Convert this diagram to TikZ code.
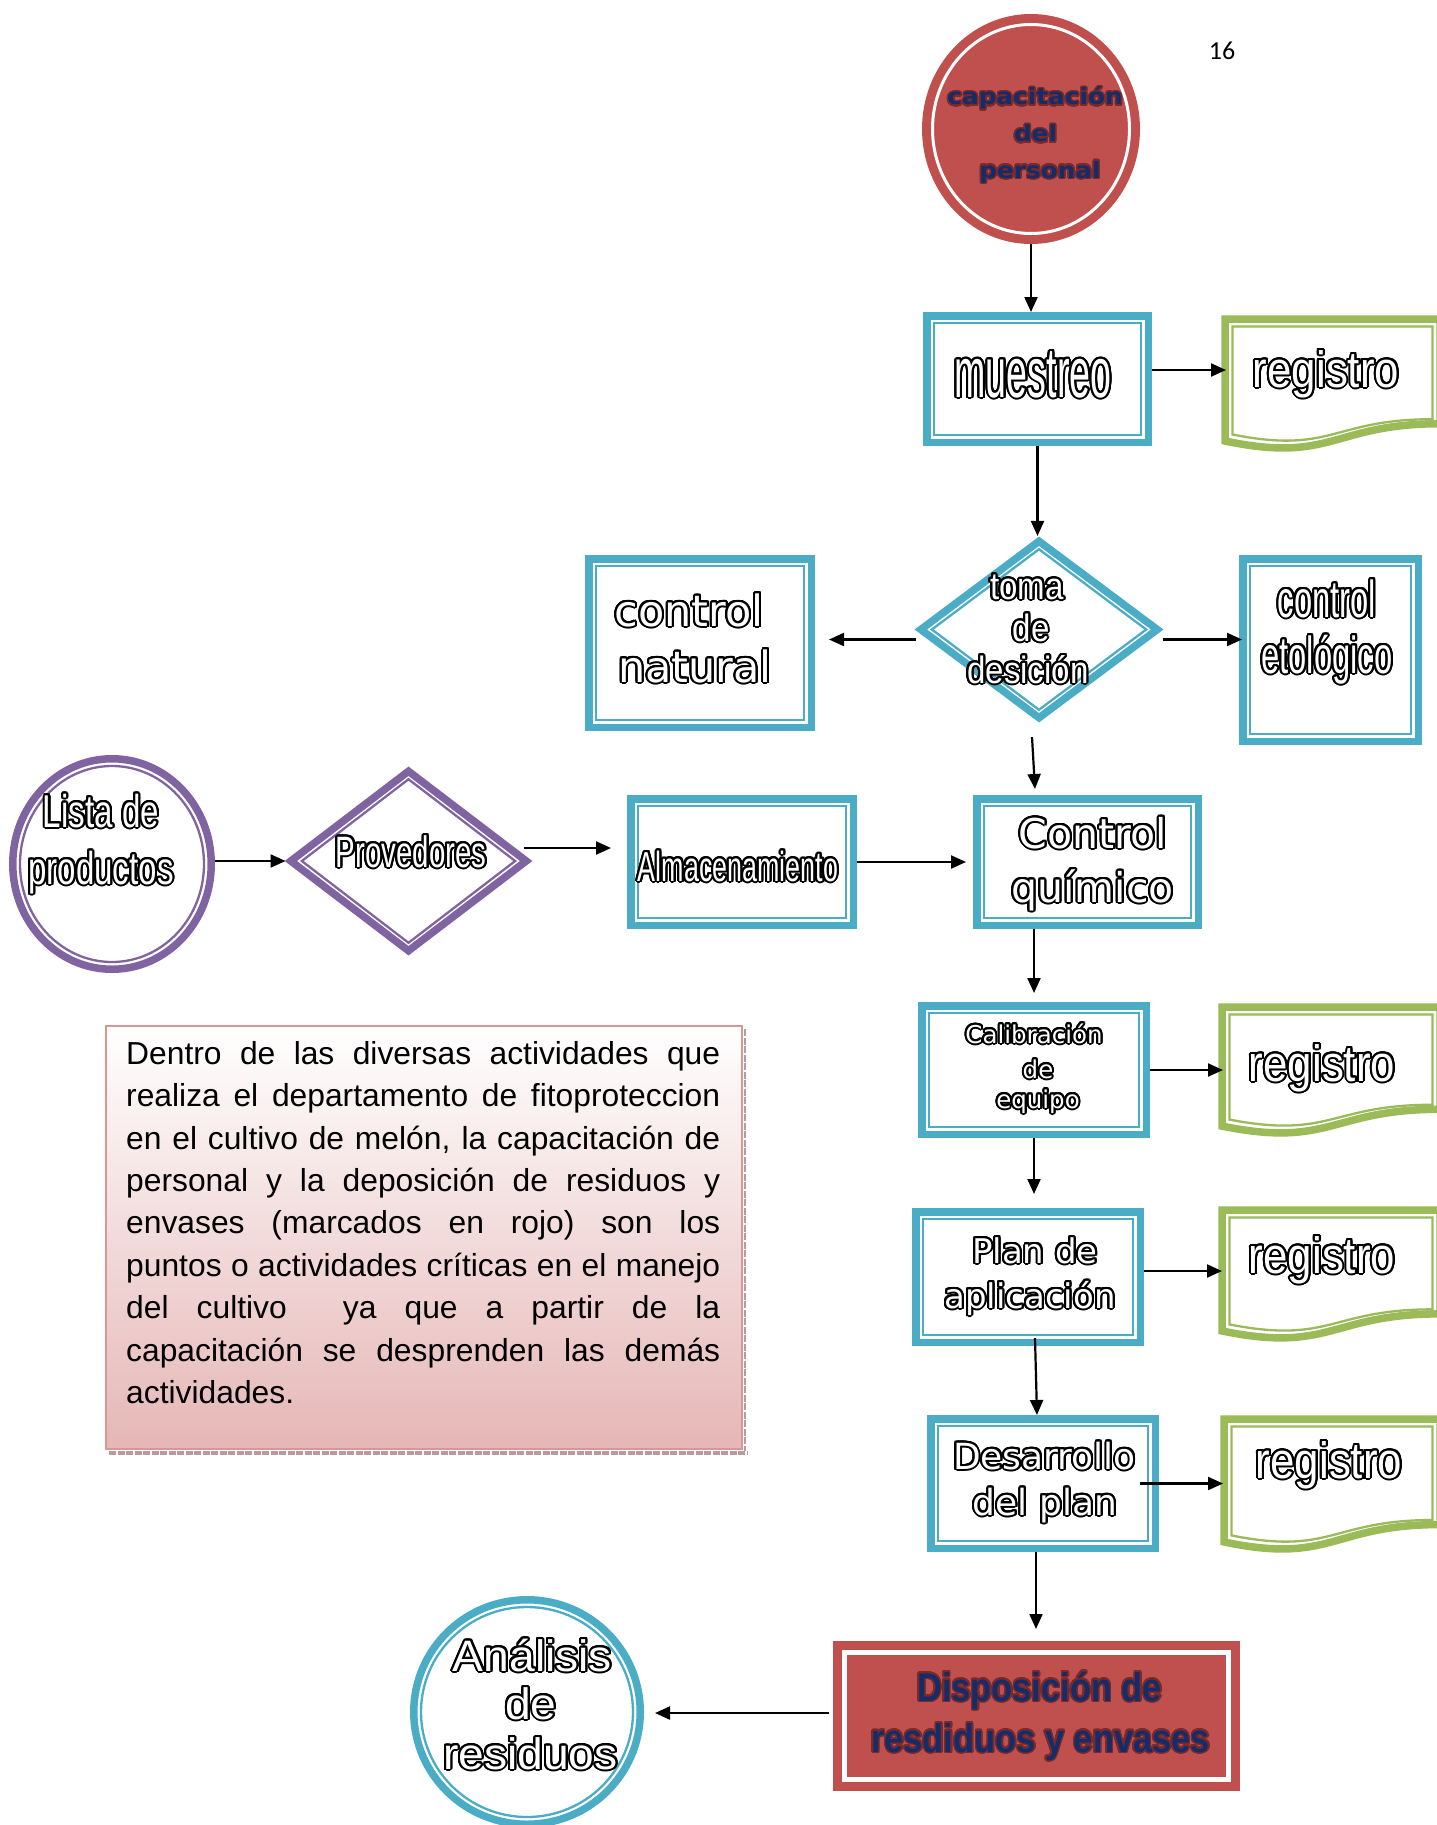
\documentclass[tikz,border=0pt]{standalone}
\usepackage{fontspec}
\setmainfont{Liberation Sans}
\newfontfamily\dvfont{DejaVu Sans}
\newfontfamily\pagefont{Carlito}
\usepackage{graphicx}
\usepackage[copies]{contour}
\contournumber{24}
\contourlength{2pt}
\usetikzlibrary{arrows.meta,shapes.geometric,calc}

\definecolor{cblue}{HTML}{4BACC6}
\definecolor{cgreen}{HTML}{9BBB59}
\definecolor{cpurple}{HTML}{8064A2}
\definecolor{cred}{HTML}{C0504D}
\definecolor{cnavy}{HTML}{142C6A}
\definecolor{cshade}{HTML}{7A2B29}
\definecolor{cpinkb}{HTML}{D99694}
\definecolor{cpinkf}{HTML}{E5B7B6}
\definecolor{cstrip}{HTML}{B99A9D}

\newcommand{\otx}[2]{\contour{black}{\scalebox{#1}[1]{#2}}}
\newcommand{\ntx}[2]{{\contourlength{1.5pt}\contour{cshade}{\scalebox{#1}[1]{#2}}}}
\newcommand{\regshape}[5]{%
  \draw[draw=cgreen, line width=7.5pt, fill=white, line join=miter]
    (#2,#3) -- (#4,#3) -- (#4,{#3+0.802*#5})
    .. controls ({(#2+#4)/2},{#3+0.802*#5}) and ({(#2+#4)/2},{#3+1.1075*#5}) ..
    (#2,{#3+0.934*#5}) -- cycle;
  \draw[draw=cgreen, line width=2.3pt]
    ({#2+7.5},{#3+7.5}) -- ({#4-7.5},{#3+7.5}) -- ({#4-7.5},{#3+7.5+0.802*(#5-15)})
    .. controls ({(#2+#4)/2},{#3+7.5+0.802*(#5-15)}) and ({(#2+#4)/2},{#3+7.5+1.1075*(#5-15)}) ..
    ({#2+7.5},{#3+7.5+0.934*(#5-15)}) -- cycle;
  \node[inner sep=0pt, minimum width={#4-#2+8}, minimum height={#5+8}, anchor=north west] (#1) at ({#2-4},{#3-4}) {};
}

\tikzset{
  bbox/.style={rectangle, draw=cblue, line width=7.5pt, fill=white, inner sep=0pt},
  bboxin/.style={rectangle, draw=cblue, line width=2.3pt, inner sep=0pt},
  pcirc/.style={ellipse, draw=cpurple, line width=7.5pt, fill=white, inner sep=0pt},
  pcircin/.style={ellipse, draw=cpurple, line width=2.3pt, inner sep=0pt},
  bcirc/.style={ellipse, draw=cblue, line width=7.5pt, fill=white, inner sep=0pt},
  bcircin/.style={ellipse, draw=cblue, line width=2.3pt, inner sep=0pt},
  bdia/.style={diamond, draw=cblue, line width=7.5pt, fill=white, inner sep=0pt},
  bdiain/.style={diamond, draw=cblue, line width=2.3pt, inner sep=0pt},
  pdia/.style={diamond, draw=cpurple, line width=7.5pt, fill=white, inner sep=0pt},
  pdiain/.style={diamond, draw=cpurple, line width=2.3pt, inner sep=0pt},
  otext/.style={text=white, inner sep=0pt, anchor=base},
  ntext/.style={text=cnavy, inner sep=0pt, anchor=base},
  arr/.style={-{Triangle[length=15pt,width=13pt]}, line width=2.2pt, draw=black},
}

\begin{document}
\begin{tikzpicture}[x=1pt,y=-1pt]
\useasboundingbox (0,0) rectangle (1436,1825);
\fill[white] (0,0) rectangle (1436,1825);

% page number
\node[font=\pagefont\fontsize{26}{30}\selectfont, anchor=base, inner sep=0pt] (pagenum) at (1222,60) {16};

% capacitacion
\node[ellipse, fill=cred, draw=cred, line width=2pt, minimum width=216, minimum height=228, inner sep=0pt] (cap) at (1031,129) {};
\node[ellipse, draw=white, line width=3pt, minimum width=197, minimum height=209, inner sep=0pt] (cap-in) at (1031,129) {};
\begin{scope}[font=\dvfont\bfseries\fontsize{22.5}{26}\selectfont]
\node[ntext] (cap-l1) at (1035,105) {\ntx{1.1}{capacitación}};
\node[ntext] (cap-l2) at (1035.5,142) {\ntx{1.1}{del}};
\node[ntext] (cap-l3) at (1040,178) {\ntx{1.1}{personal}};
\end{scope}

% muestreo
\node[bbox, minimum width=221.5, minimum height=126.5] (muestreo) at (1037.5,379) {};
\node[bboxin, minimum width=207, minimum height=112] (muestreo-in) at (1037.5,379) {};
\node[otext, font=\fontsize{71}{80}\selectfont] (muestreo-t) at (1033,397) {\otx{0.53}{muestreo}};

% registro shapes
\regshape{reg1}{1225}{319}{1440}{130.6}
\regshape{reg2}{1222}{1007}{1440}{127.5}
\regshape{reg3}{1222}{1210}{1440}{129.5}
\regshape{reg4}{1224}{1419}{1440}{131.6}
\begin{scope}[font=\fontsize{51}{56}\selectfont]
\node[otext] (reg1-t) at (1326,387) {\otx{0.86}{registro}};
\node[otext] (reg2-t) at (1322,1081) {\otx{0.86}{registro}};
\node[otext] (reg3-t) at (1322,1273) {\otx{0.86}{registro}};
\node[otext] (reg4-t) at (1329,1478) {\otx{0.86}{registro}};
\end{scope}

% toma de desicion
\node[bdia, minimum width=239.5, minimum height=179.6] (toma) at (1039,629.5) {};
\node[bdiain, minimum width=215.3, minimum height=161.5] (toma-in) at (1039,629.5) {};
\begin{scope}[font=\fontsize{38}{42}\selectfont]
\node[otext] (toma-l1) at (1027,599) {\otx{0.87}{toma}};
\node[otext] (toma-l2) at (1031,641) {\otx{0.87}{de}};
\node[otext] (toma-l3) at (1028,683) {\otx{0.87}{desición}};
\end{scope}

% control natural
\node[bbox, minimum width=222.5, minimum height=168.5] (natural) at (700,643) {};
\node[bboxin, minimum width=208, minimum height=154] (natural-in) at (700,643) {};
\begin{scope}[font=\dvfont\fontsize{43}{48}\selectfont]
\node[otext] (natural-l1) at (689,626) {\otx{1}{control}};
\node[otext] (natural-l2) at (695,682) {\otx{1}{natural}};
\end{scope}

% control etologico
\node[bbox, minimum width=175.5, minimum height=182.5] (etol) at (1330.5,650) {};
\node[bboxin, minimum width=161, minimum height=168] (etol-in) at (1330.5,650) {};
\begin{scope}[font=\fontsize{52}{56}\selectfont]
\node[otext] (etol-l1) at (1327,617) {\otx{0.63}{control}};
\node[otext] (etol-l2) at (1327,673) {\otx{0.63}{etológico}};
\end{scope}

% Lista de productos
\node[pcirc, minimum width=198.5, minimum height=210.5] (lista) at (112,864) {};
\node[pcircin, minimum width=184, minimum height=196] (lista-in) at (112,864) {};
\begin{scope}[font=\fontsize{46}{50}\selectfont]
\node[otext] (lista-l1) at (101,827) {\otx{0.72}{Lista de}};
\node[otext] (lista-l2) at (101,884) {\otx{0.72}{productos}};
\end{scope}

% Provedores
\node[pdia, minimum width=238.5, minimum height=182.6] (prov) at (408.5,861) {};
\node[pdiain, minimum width=214.3, minimum height=164.5] (prov-in) at (408.5,861) {};
\node[otext, font=\fontsize{44}{48}\selectfont] (prov-t) at (411,867) {\otx{0.67}{Provedores}};

% Almacenamiento
\node[bbox, minimum width=222.5, minimum height=126.5] (almac) at (742,862) {};
\node[bboxin, minimum width=208, minimum height=112] (almac-in) at (742,862) {};
\node[otext, font=\fontsize{42}{46}\selectfont] (almac-t) at (738,881) {\otx{0.64}{Almacenamiento}};

% Control quimico
\node[bbox, minimum width=221.5, minimum height=126.5] (quimico) at (1087.5,862) {};
\node[bboxin, minimum width=207, minimum height=112] (quimico-in) at (1087.5,862) {};
\begin{scope}[font=\dvfont\fontsize{41}{46}\selectfont]
\node[otext] (quimico-l1) at (1093,848) {\otx{1}{Control}};
\node[otext] (quimico-l2) at (1092.5,902) {\otx{1}{químico}};
\end{scope}

% Calibracion de equipo
\node[bbox, minimum width=224.5, minimum height=128.5] (calib) at (1034,1070) {};
\node[bboxin, minimum width=210, minimum height=114] (calib-in) at (1034,1070) {};
\begin{scope}[font=\dvfont\fontsize{24.5}{28}\selectfont]
\node[otext] (calib-l1) at (1034,1043) {\otx{1}{Calibración}};
\node[otext] (calib-l2) at (1038,1078) {\otx{1}{de}};
\node[otext] (calib-l3) at (1038,1108) {\otx{1}{equipo}};
\end{scope}

% Plan de aplicacion
\node[bbox, minimum width=224.5, minimum height=130.5] (plan) at (1028,1277) {};
\node[bboxin, minimum width=210, minimum height=116] (plan-in) at (1028,1277) {};
\begin{scope}[font=\dvfont\fontsize{34}{38}\selectfont]
\node[otext] (plan-l1) at (1035,1263) {\otx{1}{Plan de}};
\node[otext] (plan-l2) at (1030,1308) {\otx{1}{aplicación}};
\end{scope}

% Desarrollo del plan
\node[bbox, minimum width=224.5, minimum height=129.5] (desarrollo) at (1043,1483.5) {};
\node[bboxin, minimum width=210, minimum height=115] (desarrollo-in) at (1043,1483.5) {};
\begin{scope}[font=\dvfont\fontsize{36}{40}\selectfont]
\node[otext] (desarrollo-l1) at (1044.5,1469) {\otx{1}{Desarrollo}};
\node[otext] (desarrollo-l2) at (1045,1515) {\otx{1}{del plan}};
\end{scope}

% Disposicion de residuos
\node[rectangle, fill=cred, draw=cred, line width=2pt, minimum width=405, minimum height=148, inner sep=0pt] (disp) at (1036.5,1716) {};
\node[rectangle, draw=white, line width=4.5pt, minimum width=384, minimum height=127, inner sep=0pt] (disp-in) at (1036.5,1716) {};
\begin{scope}[font=\bfseries\fontsize{40}{44}\selectfont]
\node[ntext] (disp-l1) at (1039.5,1701) {\ntx{0.86}{Disposición de}};
\node[ntext] (disp-l2) at (1040.5,1752) {\ntx{0.86}{resdiduos y envases}};
\end{scope}

% Analisis de residuos
\node[bcirc, minimum width=226.5, minimum height=224.5] (analisis) at (527,1712) {};
\node[bcircin, minimum width=212, minimum height=210] (analisis-in) at (527,1712) {};
\begin{scope}[font=\fontsize{44}{48}\selectfont]
\node[otext] (analisis-l1) at (532.5,1671) {\otx{1.05}{Análisis}};
\node[otext] (analisis-l2) at (531,1719) {\otx{1.05}{de}};
\node[otext] (analisis-l3) at (530.5,1769) {\otx{1.05}{residuos}};
\end{scope}

% text box
\node[draw=cpinkb, line width=2pt, top color=white, bottom color=cpinkf, minimum width=636, minimum height=423, inner sep=0pt, anchor=north west] (note) at (105,1025) {};
\draw[cstrip, line width=4pt, dash pattern=on 7pt off 1.5pt] ([shift={(4pt,-3pt)}]note.south west) -- ([shift={(4pt,-3pt)}]note.south east);
\draw[cstrip, line width=2pt, dash pattern=on 7pt off 1.5pt] ([shift={(2pt,-4pt)}]note.north east) -- ([shift={(2pt,-1pt)}]note.south east);
\node[anchor=north west, text width=594pt, align=justify, inner sep=0pt, font=\fontsize{31.8}{42.4}\selectfont] (note-t) at (126,1041) {Dentro de las diversas actividades que\linebreak
realiza el departamento de fitoproteccion\linebreak
en el cultivo de melón, la capacitación de\linebreak
personal y la deposición de residuos y\linebreak
envases (marcados en rojo) son los\linebreak
puntos o actividades críticas en el manejo\linebreak
del cultivo \ ya que a partir de la\linebreak
capacitación se desprenden las demás\linebreak
actividades.};

% connectors
\draw[arr] (cap.south) -- (cap.south |- muestreo.north);
\draw[arr, shorten >=-5pt] ([yshift=9pt]muestreo.east) -- ([yshift=9pt]muestreo.east -| reg1.west);
\draw[arr] (muestreo.south) -- (muestreo.south |- toma.north);
\draw[arr, shorten >=14pt] ([yshift=-10pt]toma.west) -- ([yshift=-10pt]toma.west -| natural.east);
\draw[arr, shorten >=-3pt] ([yshift=-10pt]toma.east) -- ([yshift=-10pt]toma.east -| etol.west);
\draw[arr] ([shift={(-7pt,-14pt)}]toma.south) -- ([shift={(-4pt,6pt)}]toma.south |- quimico.north);
\draw[arr] (lista.east |- prov.west) -- (prov.west);
\draw[arr, shorten >=16pt] ([shift={(-8pt,13pt)}]prov.east) -- ([yshift=13pt]prov.east -| almac.west);
\draw[arr, shorten >=7pt] (almac.east) -- (almac.east -| quimico.west);
\draw[arr, shorten >=9pt] (quimico.south -| calib.north) -- (calib.north);
\draw[arr, shorten >=-5pt] (calib.east) -- (calib.east -| reg2.west);
\draw[arr, shorten >=14pt] (calib.south) -- (calib.south |- plan.north);
\draw[arr, shorten >=-4pt] ([yshift=6pt]plan.east) -- ([yshift=6pt]plan.east -| reg3.west);
\draw[arr] ([shift={(7pt,8pt)}]plan.south) -- ([xshift=-6pt]desarrollo.north);
\draw[arr, shorten >=-3pt] ([xshift=-19pt]desarrollo.east) -- (desarrollo.east -| reg4.west);
\draw[arr, shorten >=12pt] ([xshift=-7pt]desarrollo.south) -- ([xshift=-7pt]desarrollo.south |- disp.north);
\draw[arr, shorten >=11pt] ([shift={(-4pt,3pt)}]disp.west) -- ([yshift=3pt]disp.west -| analisis.east);
\end{tikzpicture}
\end{document}
